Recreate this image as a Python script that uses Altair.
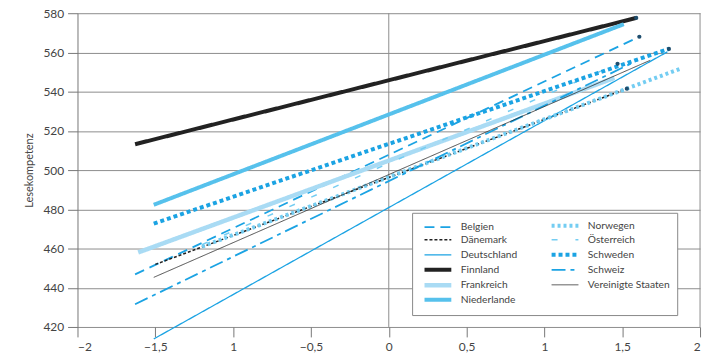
import altair as alt
import pandas as pd

countries = ["Belgien", "Dänemark", "Deutschland", "Finnland", "Frankreich", "Niederlande",
             "Norwegen", "Österreich", "Schweden", "Schweiz", "Vereinigte Staaten"]
x_start = [-1.63, -1.50, -1.51, -1.63, -1.61, -1.51, -1.20, -1.20, -1.51, -1.63, -1.51]
y_start = [446.8, 451.9, 413.9, 513.2, 458.0, 482.3, 461.0, 462.0, 472.7, 431.6, 445.3]
x_end = [1.61, 1.53, 1.79, 1.59, 1.45, 1.51, 1.87, 1.47, 1.80, 1.60, 1.68]
y_end = [568.0, 541.5, 560.3, 577.6, 547.0, 574.4, 551.6, 554.2, 561.8, 556.0, 556.0]
colors = ["#1ba3e3", "#222222", "#1ba3e3", "#222222", "#a9dbf4", "#56c1ec",
          "#74cdf2", "#74cdf2", "#1ba3e3", "#1ba3e3", "#222222"]
widths = [1.8, 1.5, 1.3, 4.0, 4.5, 4.0, 4.0, 1.5, 4.0, 1.8, 0.8]
dashes = [[10, 6], [3, 2], [1, 0], [1, 0], [1, 0], [1, 0], [3, 3], [6, 18], [4, 3], [14, 5, 4, 5], [1, 0]]
dot_country = ["Finnland", "Belgien", "Schweden", "Österreich", "Dänemark"]
x_ticks = [-2, -1.5, -1, -0.5, 0, 0.5, 1, 1.5, 2]
y_ticks = [420, 440, 460, 480, 500, 520, 540, 560, 580]

rows = []
for i, c in enumerate(countries):
    rows.append({"land": c, "x": x_start[i], "y": y_start[i], "o": 0})
    rows.append({"land": c, "x": x_end[i], "y": y_end[i], "o": 1})
df = pd.DataFrame(rows)
idx = {c: i for i, c in enumerate(countries)}
dots = pd.DataFrame([{"land": c, "x": x_end[idx[c]], "y": y_end[idx[c]]} for c in dot_country])
zero_df = pd.DataFrame({"x": [0, 2]})

xscale = alt.Scale(domain=[-2, 2], nice=False, zero=False)
yscale = alt.Scale(domain=[420, 580], nice=False, zero=False)

lbl = "datum.value == -1 ? '1' : replace(format(datum.value, '.1~f'), '.', ',')"

xaxis = alt.Axis(values=x_ticks, labelExpr=lbl,
                 title=None, grid=False, domain=False, tickSize=10, tickColor="#777",
                 labelFont="Lato", labelFontSize=12, labelColor="#444", labelPadding=5,
                 labelOverlap=False)
yaxis = alt.Axis(values=y_ticks, title="Lesekompetenz",
                 titleFont="Lato", titleFontSize=11, titleFontWeight="normal",
                 titleColor="#444", titlePadding=8, labelOverlap=False,
                 grid=True, gridColor="#8c8c8c", gridWidth=1,
                 domain=True, domainColor="#777", tickSize=10, tickColor="#777",
                 labelFont="Lato", labelFontSize=12, labelColor="#444", labelPadding=4)

X = alt.X("x:Q", scale=xscale, axis=xaxis)
Y = alt.Y("y:Q", scale=yscale, axis=yaxis)

lines = alt.Chart(df).mark_line(clip=False, strokeCap="butt").encode(
    x=X, y=Y,
    color=alt.Color("land:N", scale=alt.Scale(domain=countries, range=colors),
                    legend=alt.Legend(title=None, orient="none", legendX=337, legendY=201, columns=2,
                                      gridAlign="all", columnPadding=0, rowPadding=-3.9, padding=7,
                                      strokeColor="#888", fillColor="white",
                                      symbolType="M0,0L9,0", symbolSize=36,
                                      labelFont="Lato", labelFontSize=10.3, labelColor="#444",
                                      labelOffset=31)),
    strokeDash=alt.StrokeDash("land:N", scale=alt.Scale(domain=countries, range=dashes)),
    strokeWidth=alt.StrokeWidth("land:N", scale=alt.Scale(type="ordinal", domain=countries, range=widths)),
    order="o:Q",
)

zero_rule = alt.Chart(zero_df).mark_rule(color="#8c8c8c", strokeWidth=1).encode(x=X)

points = alt.Chart(dots).mark_circle(size=18, color="#1f4e6e", opacity=1).encode(x=X, y=Y)

chart = alt.layer(zero_rule, lines, points).properties(
    width=627, height=316,
    autosize=alt.AutoSizeParams(type="none"),
    padding={"left": 70, "top": 4, "right": 5, "bottom": 30},
).configure_view(stroke=None)

chart.save("out.html", embed_options={"renderer": "svg", "actions": False})
